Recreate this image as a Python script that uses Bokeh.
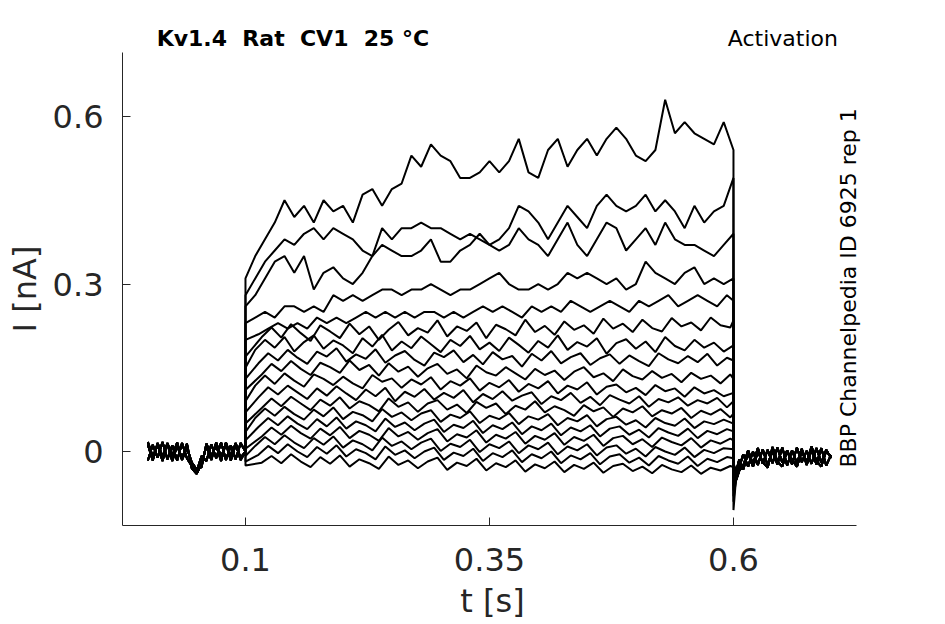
import numpy as np
from bokeh.plotting import figure
from bokeh.layouts import column
from bokeh.models import ColumnDataSource, Label, FixedTicker, Range1d
from bokeh.embed import file_html
from bokeh.resources import INLINE

# ---------------- texts / ticks ----------------
title_text = "Kv1.4\u00a0 Rat\u00a0 CV1\u00a0 25 °C"
protocol_text = "Activation"
source_text = "BBP Channelpedia ID 6925 rep 1"
x_label = "t [s]"
y_label = "I [nA]"
x_ticks = [0.1, 0.35, 0.6]
x_tick_labels = ["0.1", "0.35", "0.6"]
y_ticks = [0, 0.3, 0.6]
y_tick_labels = ["0", "0.3", "0.6"]
x_axis_extent = (-0.026, 0.726)

# ---------------- sampling times [s] ----------------
pre_t = list(np.round(np.linspace(0.0, 0.1, 21), 4))            # holding, before the step
sample_offsets = [0.0, 0.0033, 0.0067]                           # sweeps sampled at shifted instants
post_t = [0.603, 0.606, 0.61, 0.615] + list(np.round(np.linspace(0.62, 0.70, 17), 3))

# ---------------- holding current before the step [nA] ----------------
pre0 = [0.012, -0.016, 0.015, -0.009, 0.014, -0.017, 0.01, -0.013, 0.014, -0.03,
        -0.04, -0.022, 0.01, -0.015, 0.016, -0.01, 0.014, -0.016, 0.012, -0.011, 0.0]
pre1 = [-0.016, 0.012, -0.011, 0.017, -0.014, 0.011, -0.016, 0.015, -0.012, -0.026,
        -0.036, -0.008, -0.017, 0.013, -0.012, 0.016, -0.015, 0.011, -0.014, 0.015, 0.0]
pre2 = [0.017, -0.009, 0.012, -0.017, 0.015, -0.008, 0.016, -0.015, 0.007, -0.02,
        -0.032, -0.028, 0.014, -0.008, 0.011, -0.017, 0.016, -0.009, 0.015, -0.015, 0.0]

# ---------------- current after the step [nA] ----------------
post0 = [-0.05, -0.034, -0.026, 0.002, -0.023, 0.006, -0.022, 0.003, -0.021, 0.007,
         -0.02, 0.002, -0.023, 0.007, -0.019, 0.001, -0.022, 0.006, -0.02, 0.003, -0.012]
post1 = [-0.04, -0.028, -0.005, -0.027, 0.0, -0.024, 0.004, -0.025, 0.001, -0.023,
         0.007, -0.025, 0.002, -0.021, 0.005, -0.024, 0.003, -0.023, 0.006, -0.025, -0.006]
post2 = [-0.034, -0.014, -0.032, -0.003, -0.027, -0.001, -0.019, -0.029, 0.008, -0.018,
         -0.027, 0.001, -0.015, -0.027, 0.0, -0.019, 0.009, -0.017, -0.027, 0.001, -0.01]

# ---------------- current during the step, one list per sweep [nA] ----------------
sweep_A = [0.31, 0.35, 0.38, 0.41, 0.45, 0.42, 0.44, 0.41, 0.45, 0.43,
           0.44, 0.41, 0.46, 0.47, 0.44, 0.47, 0.48, 0.53, 0.51, 0.55,
           0.53, 0.52, 0.49, 0.49, 0.50, 0.52, 0.50, 0.52, 0.56, 0.50,
           0.49, 0.54, 0.56, 0.51, 0.54, 0.56, 0.53, 0.56, 0.58, 0.56,
           0.53, 0.52, 0.54, 0.63, 0.57, 0.59, 0.57, 0.56, 0.55, 0.59,
           0.54]
sweep_B = [0.28, 0.31, 0.34, 0.36, 0.38, 0.37, 0.39, 0.40, 0.38, 0.40,
           0.39, 0.38, 0.36, 0.35, 0.40, 0.38, 0.40, 0.40, 0.41, 0.40,
           0.40, 0.39, 0.38, 0.39, 0.38, 0.37, 0.38, 0.40, 0.44, 0.43,
           0.41, 0.38, 0.41, 0.44, 0.42, 0.40, 0.44, 0.46, 0.44, 0.43,
           0.44, 0.46, 0.43, 0.45, 0.43, 0.40, 0.44, 0.41, 0.43, 0.44,
           0.49]
sweep_C = [0.26, 0.28, 0.31, 0.34, 0.35, 0.32, 0.35, 0.29, 0.32, 0.33,
           0.31, 0.30, 0.32, 0.35, 0.37, 0.36, 0.35, 0.35, 0.36, 0.38,
           0.34, 0.34, 0.36, 0.37, 0.39, 0.37, 0.36, 0.37, 0.40, 0.38,
           0.37, 0.35, 0.38, 0.41, 0.37, 0.35, 0.38, 0.41, 0.40, 0.36,
           0.38, 0.40, 0.37, 0.41, 0.38, 0.37, 0.37, 0.36, 0.35, 0.37,
           0.39]
sweep_D = [0.23, 0.24, 0.25, 0.24, 0.26, 0.26, 0.25, 0.26, 0.25, 0.28,
           0.27, 0.28, 0.27, 0.28, 0.29, 0.29, 0.28, 0.29, 0.29, 0.30,
           0.29, 0.28, 0.29, 0.29, 0.30, 0.31, 0.32, 0.30, 0.29, 0.29,
           0.30, 0.29, 0.30, 0.32, 0.31, 0.32, 0.31, 0.30, 0.31, 0.29,
           0.30, 0.34, 0.32, 0.31, 0.30, 0.32, 0.33, 0.30, 0.31, 0.30,
           0.31]
sweep_E = [0.20, 0.21, 0.22, 0.23, 0.22, 0.23, 0.22, 0.24, 0.23, 0.24,
           0.23, 0.24, 0.25, 0.24, 0.25, 0.24, 0.25, 0.24, 0.25, 0.25,
           0.24, 0.25, 0.24, 0.25, 0.26, 0.25, 0.26, 0.25, 0.24, 0.26,
           0.25, 0.26, 0.25, 0.27, 0.26, 0.25, 0.26, 0.27, 0.26, 0.25,
           0.27, 0.26, 0.27, 0.28, 0.26, 0.27, 0.28, 0.27, 0.26, 0.28,
           0.27]
sweep_F = [0.17, 0.205, 0.222, 0.204, 0.228, 0.212, 0.198, 0.226, 0.215, 0.203,
           0.229, 0.21, 0.224, 0.2, 0.218, 0.232, 0.208, 0.221, 0.213, 0.235,
           0.206, 0.224, 0.216, 0.231, 0.203, 0.227, 0.219, 0.208, 0.236, 0.214,
           0.225, 0.209, 0.233, 0.218, 0.226, 0.211, 0.238, 0.22, 0.229, 0.214,
           0.236, 0.221, 0.215, 0.239, 0.224, 0.231, 0.217, 0.24, 0.226, 0.222,
           0.235]
sweep_G = [0.15, 0.182, 0.2, 0.186, 0.205, 0.179, 0.196, 0.208, 0.184, 0.199,
           0.19, 0.176, 0.203, 0.188, 0.209, 0.181, 0.197, 0.185, 0.206, 0.192,
           0.178, 0.2, 0.189, 0.207, 0.183, 0.195, 0.18, 0.204, 0.191, 0.177,
           0.198, 0.186, 0.208, 0.182, 0.196, 0.188, 0.203, 0.175, 0.194, 0.201,
           0.184, 0.197, 0.178, 0.205, 0.189, 0.181, 0.2, 0.186, 0.195, 0.179,
           0.19]
sweep_H = [0.13, 0.158, 0.176, 0.163, 0.182, 0.168, 0.157, 0.179, 0.17, 0.185,
           0.161, 0.174, 0.166, 0.183, 0.159, 0.172, 0.18, 0.164, 0.154, 0.177,
           0.169, 0.181, 0.16, 0.173, 0.156, 0.178, 0.165, 0.171, 0.152, 0.175,
           0.163, 0.18, 0.158, 0.169, 0.176, 0.155, 0.167, 0.174, 0.157, 0.172,
           0.162, 0.153, 0.176, 0.165, 0.158, 0.171, 0.16, 0.175, 0.154, 0.168,
           0.163]
sweep_I = [0.11, 0.138, 0.157, 0.144, 0.162, 0.148, 0.137, 0.159, 0.151, 0.141,
           0.163, 0.146, 0.155, 0.136, 0.158, 0.143, 0.152, 0.134, 0.149, 0.157,
           0.139, 0.147, 0.131, 0.154, 0.142, 0.136, 0.151, 0.14, 0.129, 0.148,
           0.137, 0.145, 0.128, 0.143, 0.151, 0.133, 0.14, 0.126, 0.147, 0.135,
           0.129, 0.144, 0.132, 0.139, 0.124, 0.141, 0.13, 0.136, 0.122, 0.138,
           0.13]
sweep_J = [0.09, 0.118, 0.136, 0.121, 0.14, 0.127, 0.116, 0.138, 0.13, 0.119,
           0.134, 0.122, 0.113, 0.137, 0.125, 0.131, 0.114, 0.129, 0.12, 0.133,
           0.111, 0.126, 0.118, 0.131, 0.109, 0.123, 0.115, 0.128, 0.107, 0.121,
           0.113, 0.126, 0.104, 0.118, 0.111, 0.124, 0.102, 0.116, 0.12, 0.106,
           0.114, 0.101, 0.119, 0.108, 0.113, 0.098, 0.115, 0.104, 0.11, 0.099,
           0.105]
sweep_K = [0.07, 0.097, 0.115, 0.102, 0.118, 0.106, 0.094, 0.113, 0.1, 0.117,
           0.104, 0.092, 0.111, 0.099, 0.114, 0.09, 0.107, 0.098, 0.112, 0.093,
           0.105, 0.096, 0.11, 0.088, 0.103, 0.094, 0.108, 0.091, 0.1, 0.106,
           0.085, 0.099, 0.092, 0.105, 0.087, 0.098, 0.083, 0.101, 0.093, 0.086,
           0.099, 0.08, 0.094, 0.088, 0.097, 0.082, 0.092, 0.086, 0.096, 0.079,
           0.09]
sweep_L = [0.05, 0.078, 0.095, 0.081, 0.098, 0.086, 0.074, 0.093, 0.082, 0.097,
           0.077, 0.09, 0.083, 0.072, 0.095, 0.08, 0.088, 0.071, 0.086, 0.092,
           0.075, 0.084, 0.069, 0.089, 0.078, 0.086, 0.067, 0.082, 0.075, 0.09,
           0.07, 0.081, 0.074, 0.064, 0.083, 0.072, 0.079, 0.062, 0.077, 0.07,
           0.081, 0.063, 0.074, 0.068, 0.078, 0.06, 0.073, 0.066, 0.076, 0.061,
           0.068]
sweep_M = [0.035, 0.06, 0.077, 0.064, 0.08, 0.067, 0.057, 0.075, 0.063, 0.079,
           0.058, 0.071, 0.065, 0.054, 0.076, 0.062, 0.07, 0.056, 0.068, 0.074,
           0.053, 0.066, 0.06, 0.072, 0.051, 0.064, 0.058, 0.069, 0.049, 0.063,
           0.057, 0.067, 0.047, 0.06, 0.054, 0.065, 0.045, 0.058, 0.062, 0.048,
           0.056, 0.043, 0.06, 0.051, 0.046, 0.059, 0.042, 0.054, 0.049, 0.057,
           0.05]
sweep_N = [0.02, 0.044, 0.06, 0.047, 0.063, 0.05, 0.04, 0.058, 0.045, 0.061,
           0.041, 0.054, 0.047, 0.036, 0.059, 0.044, 0.052, 0.038, 0.05, 0.057,
           0.035, 0.048, 0.042, 0.055, 0.033, 0.047, 0.04, 0.052, 0.031, 0.045,
           0.038, 0.05, 0.029, 0.043, 0.036, 0.047, 0.027, 0.041, 0.045, 0.03,
           0.039, 0.025, 0.042, 0.034, 0.028, 0.041, 0.024, 0.037, 0.031, 0.04,
           0.036]
sweep_O = [0.005, 0.027, 0.043, 0.03, 0.046, 0.033, 0.023, 0.041, 0.029, 0.044,
           0.024, 0.037, 0.03, 0.019, 0.042, 0.027, 0.035, 0.021, 0.033, 0.04,
           0.018, 0.031, 0.025, 0.038, 0.016, 0.03, 0.023, 0.035, 0.014, 0.028,
           0.021, 0.033, 0.012, 0.026, 0.019, 0.03, 0.01, 0.024, 0.028, 0.013,
           0.022, 0.008, 0.025, 0.017, 0.011, 0.024, 0.007, 0.02, 0.014, 0.023,
           0.02]
sweep_P = [-0.008, 0.01, 0.026, 0.013, 0.029, 0.016, 0.006, 0.024, 0.012, 0.027,
           0.007, 0.02, 0.013, 0.002, 0.025, 0.01, 0.018, 0.004, 0.016, 0.023,
           0.001, 0.014, 0.008, 0.021, -0.001, 0.013, 0.006, 0.018, -0.003, 0.011,
           0.004, 0.016, -0.005, 0.009, 0.002, 0.013, -0.007, 0.007, 0.011, -0.004,
           0.005, -0.009, 0.008, 0.0, -0.006, 0.007, -0.01, 0.003, -0.003, 0.006,
           0.004]
sweep_Q = [-0.018, -0.006, 0.01, -0.003, 0.013, 0.0, -0.01, 0.008, -0.004, 0.011,
           -0.009, 0.004, -0.003, -0.014, 0.009, -0.006, 0.002, -0.012, 0.0, 0.007,
           -0.015, -0.002, -0.008, 0.005, -0.017, -0.003, -0.01, 0.002, -0.019, -0.005,
           -0.012, 0.0, -0.021, -0.007, -0.014, -0.003, -0.023, -0.009, -0.005, -0.02,
           -0.011, -0.025, -0.008, -0.016, -0.022, -0.009, -0.026, -0.013, -0.019, -0.01,
           -0.012]
sweep_R = [-0.025, -0.02, -0.008, -0.021, -0.005, -0.018, -0.028, -0.01, -0.022, -0.007,
           -0.027, -0.014, -0.021, -0.031, -0.009, -0.024, -0.016, -0.03, -0.018, -0.011,
           -0.033, -0.02, -0.026, -0.013, -0.034, -0.021, -0.028, -0.016, -0.036, -0.023,
           -0.03, -0.018, -0.037, -0.024, -0.031, -0.02, -0.038, -0.026, -0.022, -0.035,
           -0.027, -0.039, -0.024, -0.032, -0.037, -0.025, -0.04, -0.029, -0.034, -0.026,
           -0.028]

sweeps = [sweep_A, sweep_B, sweep_C, sweep_D, sweep_E, sweep_F, sweep_G, sweep_H, sweep_I,
          sweep_J, sweep_K, sweep_L, sweep_M, sweep_N, sweep_O, sweep_P, sweep_Q, sweep_R]
# tail current right after the step ends [nA]
tail_peaks = [-0.105, -0.09, -0.08, -0.07, -0.062, -0.055, -0.05, -0.045, -0.042,
              -0.038, -0.035, -0.032, -0.03, -0.028, -0.026, -0.024, -0.022, -0.02]

pre_sets = [pre0, pre1, pre2]
post_sets = [post0, post1, post2]

step_grids = []
for off in sample_offsets:
    inner = list(np.round(0.1 + off + 0.01 * np.arange(1, 50), 4))
    step_grids.append([0.1] + inner + [0.6])

xs, ys = [], []
for i, sw in enumerate(sweeps):
    pre = pre_sets[i % 3]
    post = post_sets[(i + 1) % 3]
    grid = step_grids[i % 3] if i >= 3 else step_grids[0]
    xs.append(pre_t + grid + [0.6] + post_t)
    ys.append(pre + sw + [tail_peaks[i]] + post)

src = ColumnDataSource(data=dict(xs=xs, ys=ys))

# ---------------- layout geometry ----------------
W, H = 945, 624
head_h = 52                       # strip holding the header texts
left, right, bottom = 122, 83, 99
px_per_s, px_per_nA = 976.0, 558.3
x0 = x_axis_extent[0]
x1 = x0 + (W - left - right) / px_per_s
y0 = -74 / px_per_nA
y1 = y0 + (H - head_h - bottom) / px_per_nA
y_head = y1 + head_h / px_per_nA

# ---------------- header strip (same x scale) ----------------
head = figure(width=W, height=head_h, title=None,
              x_range=Range1d(x0, x1), y_range=Range1d(y1, y_head),
              output_backend="svg", toolbar_location=None,
              x_axis_location=None, y_axis_location=None,
              min_border_left=left, min_border_right=right,
              min_border_top=0, min_border_bottom=0)
head.outline_line_color = None
head.grid.visible = False
head.add_layout(Label(x=0.009, y=0.7397, text=title_text, text_font="DejaVu Sans",
                      text_font_style="bold", text_font_size="22px", text_color="black",
                      text_baseline="alphabetic", text_align="left"))
head.add_layout(Label(x=0.707, y=0.7397, text=protocol_text, text_font="DejaVu Sans",
                      text_font_size="22px", text_color="black",
                      text_baseline="alphabetic", text_align="right"))

# ---------------- main plot ----------------
p = figure(width=W, height=H - head_h, title=None,
           x_range=Range1d(x0, x1), y_range=Range1d(y0, y1),
           output_backend="svg", toolbar_location=None,
           min_border_left=left, min_border_right=right,
           min_border_top=0, min_border_bottom=bottom)
p.outline_line_color = None
p.grid.visible = False

p.multi_line(xs="xs", ys="ys", source=src, line_color="black", line_width=2.0)

axis_color = "#262626"
for ax in (p.xaxis[0], p.yaxis[0]):
    ax.axis_line_color = axis_color
    ax.axis_line_width = 1
    ax.major_tick_line_color = axis_color
    ax.major_tick_in = 8
    ax.major_tick_out = 0
    ax.minor_tick_line_color = None
    ax.major_label_text_font = "DejaVu Sans"
    ax.major_label_text_font_size = "32px"
    ax.major_label_text_color = axis_color
    ax.axis_label_text_font = "DejaVu Sans"
    ax.axis_label_text_font_size = "32px"
    ax.axis_label_text_font_style = "normal"
    ax.axis_label_text_color = axis_color

p.xaxis.bounds = x_axis_extent
p.xaxis.ticker = FixedTicker(ticks=x_ticks)
p.yaxis.ticker = FixedTicker(ticks=y_ticks)
p.xaxis.major_label_overrides = dict(zip(x_ticks, x_tick_labels))
p.yaxis.major_label_overrides = dict(zip(y_ticks, y_tick_labels))
p.xaxis.axis_label = x_label
p.yaxis.axis_label = y_label
p.xaxis.major_label_standoff = 22
p.xaxis.axis_label_standoff = 8
p.yaxis.major_label_standoff = 19
p.yaxis.axis_label_standoff = 6

p.add_layout(Label(x=0.7175, y=0.293, text=source_text, text_font="DejaVu Sans",
                   text_font_size="22px", text_color="black", angle=np.pi / 2,
                   text_baseline="alphabetic", text_align="center"))

layout = column(head, p, spacing=0)
open("out.html", "w").write(file_html(layout, INLINE))
